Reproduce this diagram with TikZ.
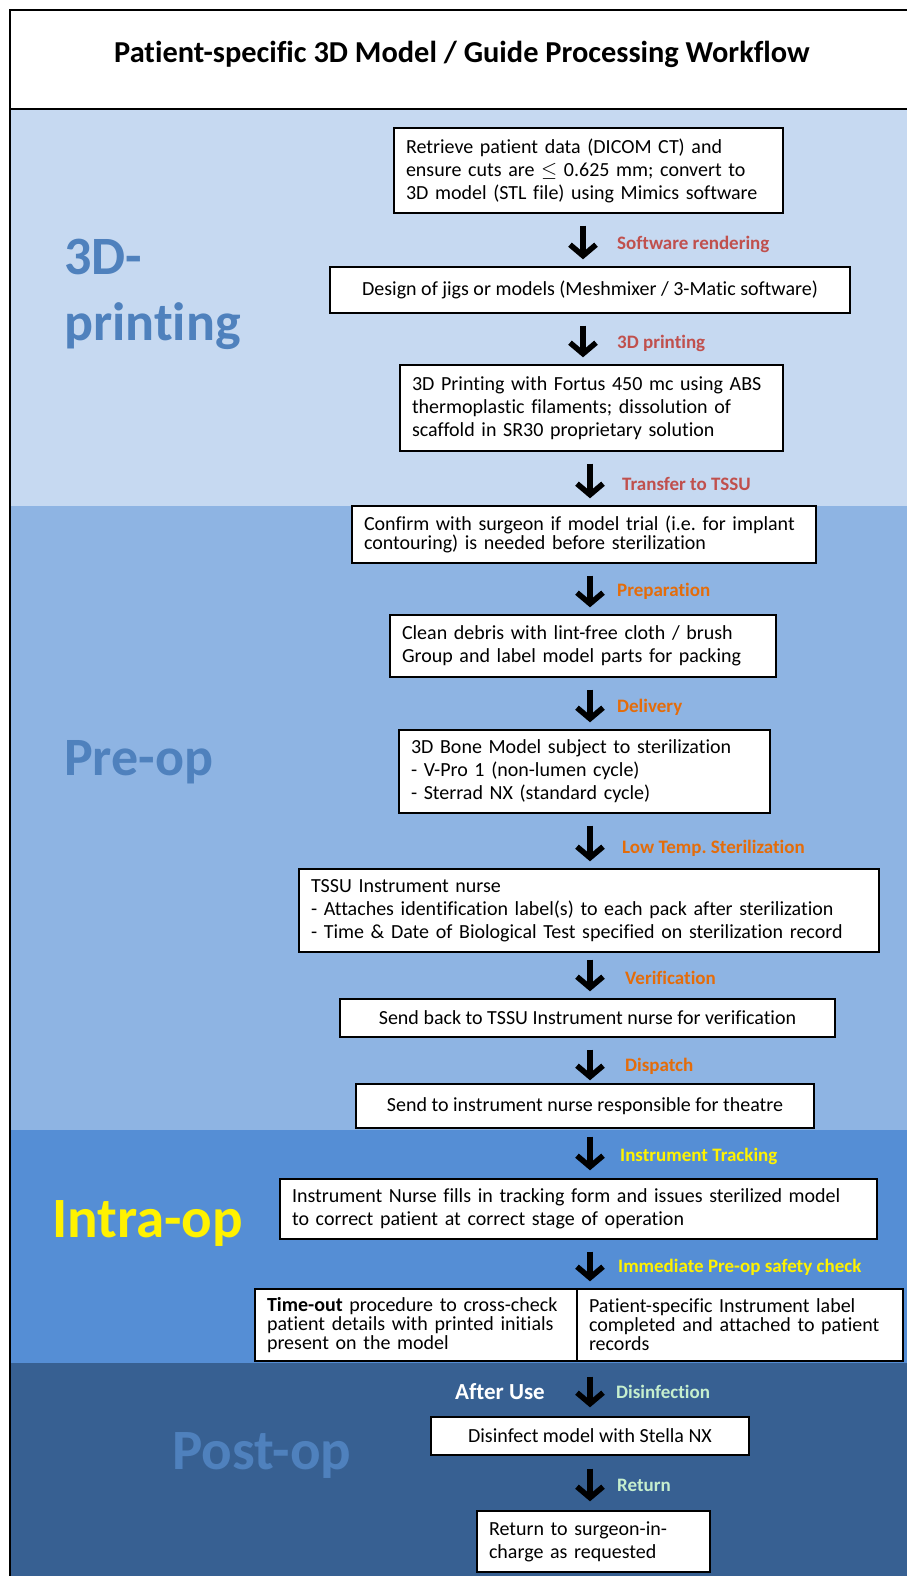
\documentclass[tikz,border=0pt]{standalone}
\usepackage{fontspec}
\setmainfont{Carlito}[Ligatures={NoCommon,NoRare}]
\usetikzlibrary{arrows.meta,positioning}
\frenchspacing

\definecolor{bandA}{HTML}{C6D9F1}
\definecolor{bandB}{HTML}{8EB4E3}
\definecolor{bandC}{HTML}{558ED5}
\definecolor{bandD}{HTML}{376092}
\definecolor{phaseblue}{HTML}{4F81BD}
\definecolor{labred}{HTML}{C0504D}
\definecolor{laborange}{HTML}{E46C0A}
\definecolor{labgreen}{HTML}{C6EFCE}

\tikzset{
  box/.style={draw=black, line width=1.4pt, fill=white, inner xsep=12pt, inner ysep=2pt,
    align=left, font=\fontsize{20}{23}\selectfont},
  tightbox/.style={box, font=\fontsize{20}{19}\selectfont},
  flow/.style={line width=5.5pt, -{Straight Barb[length=11pt,width=26pt]},
    shorten <=12pt, shorten >=7pt},
  steplabel/.style={anchor=west, inner sep=0pt, font=\fontsize{19}{21}\selectfont\bfseries},
  phase/.style={anchor=west, align=left, inner sep=0pt, font=\fontsize{54}{66}\selectfont\bfseries},
}

\begin{document}
\begin{tikzpicture}[x=1pt,y=-1pt]
\useasboundingbox (0,0) rectangle (906,1576);

% bands
\fill[bandA] (10,109) rectangle (912,506);
\fill[bandB] (10,506) rectangle (912,1130);
\fill[bandC] (10,1130) rectangle (912,1363);
\fill[bandD] (10,1363) rectangle (912,1580);
\draw[line width=2pt, fill=white] (10,10) rectangle (912,109);
\draw[line width=2pt] (10,10) -- (10,1580);

\node[font=\fontsize{30.4}{34}\selectfont\bfseries] (title) at (462,54)
  {Patient-specific 3D Model / Guide Processing Workflow};

% phase names
\node[phase, text=phaseblue] (ph3d) at (64,294) {3D-\\printing};
\node[phase, text=phaseblue] (phpre) at (64,762) {Pre-op};
\node[phase, text=yellow, font=\fontsize{57}{66}\selectfont\bfseries] (phintra) at (52,1223) {Intra-op};
\node[phase, text=phaseblue, font=\fontsize{57}{66}\selectfont\bfseries] (phpost) at (172,1455) {Post-op};

\coordinate (colA) at (583,0);
\coordinate (colB) at (590,0);

% steps
\node[box, text width=365pt, minimum height=85pt] (retrieve) at (588.5,170.5)
  {Retrieve patient data (DICOM CT) and\\ensure cuts are $\leq$ 0.625 mm; convert to\\3D model (STL file) using Mimics software};
\node[box, align=center, minimum width=520pt, minimum height=46pt] (design) at (590,290)
  {Design of jigs or models (Meshmixer / 3-Matic software)};
\node[box, text width=359pt, minimum height=86pt] (print) at (591.5,408)
  {3D Printing with Fortus 450 mc using ABS\\thermoplastic filaments; dissolution of\\scaffold in SR30 proprietary solution};
\node[tightbox, text width=440pt, minimum height=57pt] (confirm) at (584,534.5)
  {Confirm with surgeon if model trial (i.e. for implant\\contouring) is needed before sterilization};
\node[box, text width=362pt, minimum height=62pt] (clean) at (583,646)
  {Clean debris with lint-free cloth / brush\\Group and label model parts for packing};
\node[box, text width=347pt, minimum height=83pt] (steril) at (584.5,771.5)
  {3D Bone Model subject to sterilization\\- V-Pro 1 (non-lumen cycle)\\- Sterrad NX (standard cycle)};
\node[box, text width=556pt, minimum height=83pt] (tssu) at (589,910.5)
  {TSSU Instrument nurse\\- Attaches identification label(s) to each pack after sterilization\\- Time \& Date of Biological Test specified on sterilization record};
\node[box, align=center, minimum width=495pt, minimum height=38pt] (sendback) at (587.5,1018)
  {Send back to TSSU Instrument nurse for verification};
\node[box, align=center, minimum width=458pt, minimum height=44pt] (sendto) at (585,1106)
  {Send to instrument nurse responsible for theatre};
\node[box, text width=573pt, minimum height=60pt] (fills) at (578.5,1209)
  {Instrument Nurse fills in tracking form and issues sterilized model\\to correct patient at correct stage of operation};
\node[tightbox, text width=298pt, minimum height=72pt] (timeout) at (416,1325)
  {\textbf{Time-out} procedure to cross-check\\patient details with printed initials\\present on the model};
\node[tightbox, text width=302pt, minimum height=72pt] (pslabel) at (740,1325)
  {Patient-specific Instrument label\\completed and attached to patient\\records};
\node[box, align=center, minimum width=318pt, minimum height=38pt] (disinfect) at (590,1436)
  {Disinfect model with Stella NX};
\node[box, text width=209pt, minimum height=61pt] (return) at (593.5,1541.5)
  {Return to surgeon-in-\\charge as requested};

% arrows
\draw[flow] (retrieve.south -| colA) -- (design.north -| colA);
\draw[flow] (design.south -| colA) -- (print.north -| colA);
\draw[flow] (print.south -| colB) -- (confirm.north -| colB);
\draw[flow] (confirm.south -| colB) -- (clean.north -| colB);
\draw[flow] (clean.south -| colB) -- (steril.north -| colB);
\draw[flow] (steril.south -| colB) -- (tssu.north -| colB);
\draw[flow, shorten <=7pt] (tssu.south -| colB) -- (sendback.north -| colB);
\draw[flow, shorten >=3pt] (sendback.south -| colB) -- (sendto.north -| colB);
\draw[flow, shorten <=8pt, shorten >=8pt] (sendto.south -| colB) -- (fills.north -| colB);
\draw[flow] (fills.south -| colB) -- (timeout.north -| colB);
\draw[flow, shorten <=15pt, shorten >=9pt] (timeout.south -| colB) -- (disinfect.north -| colB);
\draw[flow, shorten <=13pt, shorten >=9pt] (disinfect.south -| colB) -- (return.north -| colB);

% arrow labels
\node[steplabel, text=labred] (l1) at (617,244) {Software rendering};
\node[steplabel, text=labred] (l2) at (617,343) {3D printing};
\node[steplabel, text=labred] (l3) at (622,484) {Transfer to TSSU};
\node[steplabel, text=laborange] (l4) at (617,591) {Preparation};
\node[steplabel, text=laborange] (l5) at (617,707) {Delivery};
\node[steplabel, text=laborange] (l6) at (622,848) {Low Temp. Sterilization};
\node[steplabel, text=laborange] (l7) at (625,978) {Verification};
\node[steplabel, text=laborange] (l8) at (625,1066) {Dispatch};
\node[steplabel, text=yellow] (l9) at (620,1156) {Instrument Tracking};
\node[steplabel, text=yellow] (l10) at (618,1267) {Immediate Pre-op safety check};
\node[steplabel, text=labgreen] (l11) at (616,1392) {Disinfection};
\node[steplabel, text=labgreen] (l12) at (617,1485) {Return};
\node[font=\fontsize{23}{26}\selectfont\bfseries, text=white] (afteruse) at (500,1392) {After Use};

\end{tikzpicture}
\end{document}
